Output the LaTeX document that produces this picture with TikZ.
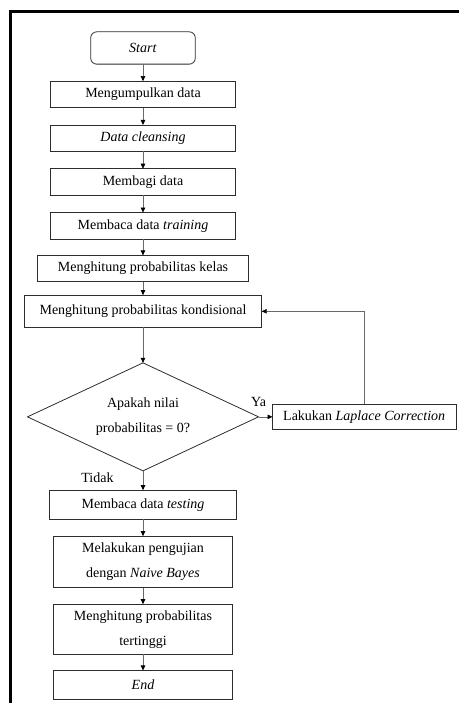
\documentclass[tikz,border=0pt]{standalone}
\usepackage{fontspec}
\setmainfont{Liberation Serif}
\usetikzlibrary{arrows.meta,positioning,shapes.geometric}
\definecolor{BoxLine}{RGB}{45,45,45}
\definecolor{ArrowGray}{RGB}{105,105,105}

\begin{document}
\begin{tikzpicture}[x=1pt,y=-1pt,node distance=17pt,>={Triangle[length=5pt,width=4.5pt,color=black]},
  box/.style={draw=BoxLine,line width=0.8pt,outer sep=0pt,minimum width=184.3pt,minimum height=26.5pt,align=center,inner sep=2pt,font=\fontsize{14}{25}\selectfont},
  term/.style={box,rounded corners=6pt,minimum width=104.6pt,minimum height=32.3pt},
  dec/.style={box,shape=diamond,aspect=2.14,minimum width=231pt,minimum height=108pt,inner sep=0pt},
  flow/.style={->,draw=ArrowGray,line width=0.6pt},
  lbl/.style={font=\fontsize{14}{16}\selectfont,inner sep=0pt}]
  \useasboundingbox (0,0) rectangle (459,703);
  \draw[line width=3pt] (10.5,703) -- (10.5,12) -- (459,12);
  % main column
  \node[term] (start) at (143,48) {\textit{Start}};
  \node[box,below=of start] (collect) {Mengumpulkan data};
  \node[box,below=17.3pt of collect] (clean) {\textit{Data cleansing}};
  \node[box,below=17.3pt of clean] (split) {Membagi data};
  \node[box,below=17.3pt of split] (train) {Membaca data \textit{training}};
  \node[box,minimum width=211.4pt,below=16.3pt of train] (prior) {Menghitung probabilitas kelas};
  \node[box,minimum width=237.4pt,minimum height=32.3pt,below=13.3pt of prior] (cond) {Menghitung probabilitas kondisional};
  \node[dec,below=35.4pt of cond] (zero) {Apakah nilai\\probabilitas = 0?};
  \node[box,minimum width=183.4pt,minimum height=25.3pt,right=14pt of zero] (laplace) {Lakukan \textit{Laplace Correction}};
  \node[box,minimum width=187.7pt,minimum height=29pt,below=19.3pt of zero] (test) {Membaca data \textit{testing}};
  \node[box,minimum width=178.3pt,minimum height=51.7pt,below=17pt of test] (naive) {Melakukan pengujian\\dengan \textit{Naive Bayes}};
  \node[box,minimum width=178.3pt,minimum height=50.3pt,below=16.3pt of naive] (maxp) {Menghitung probabilitas\\tertinggi};
  \node[box,minimum width=178.4pt,minimum height=28.7pt,below=16pt of maxp] (end) {\textit{End}};
  % branch labels
  \node[lbl] (ya) at ([yshift=15pt]zero.east) {Ya};
  \node[lbl] (tidak) at ([xshift=-45.5pt,yshift=-6.5pt]zero.south) {Tidak};
  \draw[flow] (start) -- (collect);
  \draw[flow] (collect) -- (clean);
  \draw[flow] (clean) -- (split);
  \draw[flow] (split) -- (train);
  \draw[flow] (train) -- (prior);
  \draw[flow] (prior) -- (cond);
  \draw[flow] (cond) -- (zero);
  \draw[flow] (zero.east) -- (laplace.west);
  \draw[flow] (laplace.north) |- (cond.east);
  \draw[flow] (zero) -- (test);
  \draw[flow] (test) -- (naive);
  \draw[flow] (naive) -- (maxp);
  \draw[flow] (maxp) -- (end);
\end{tikzpicture}
\end{document}
